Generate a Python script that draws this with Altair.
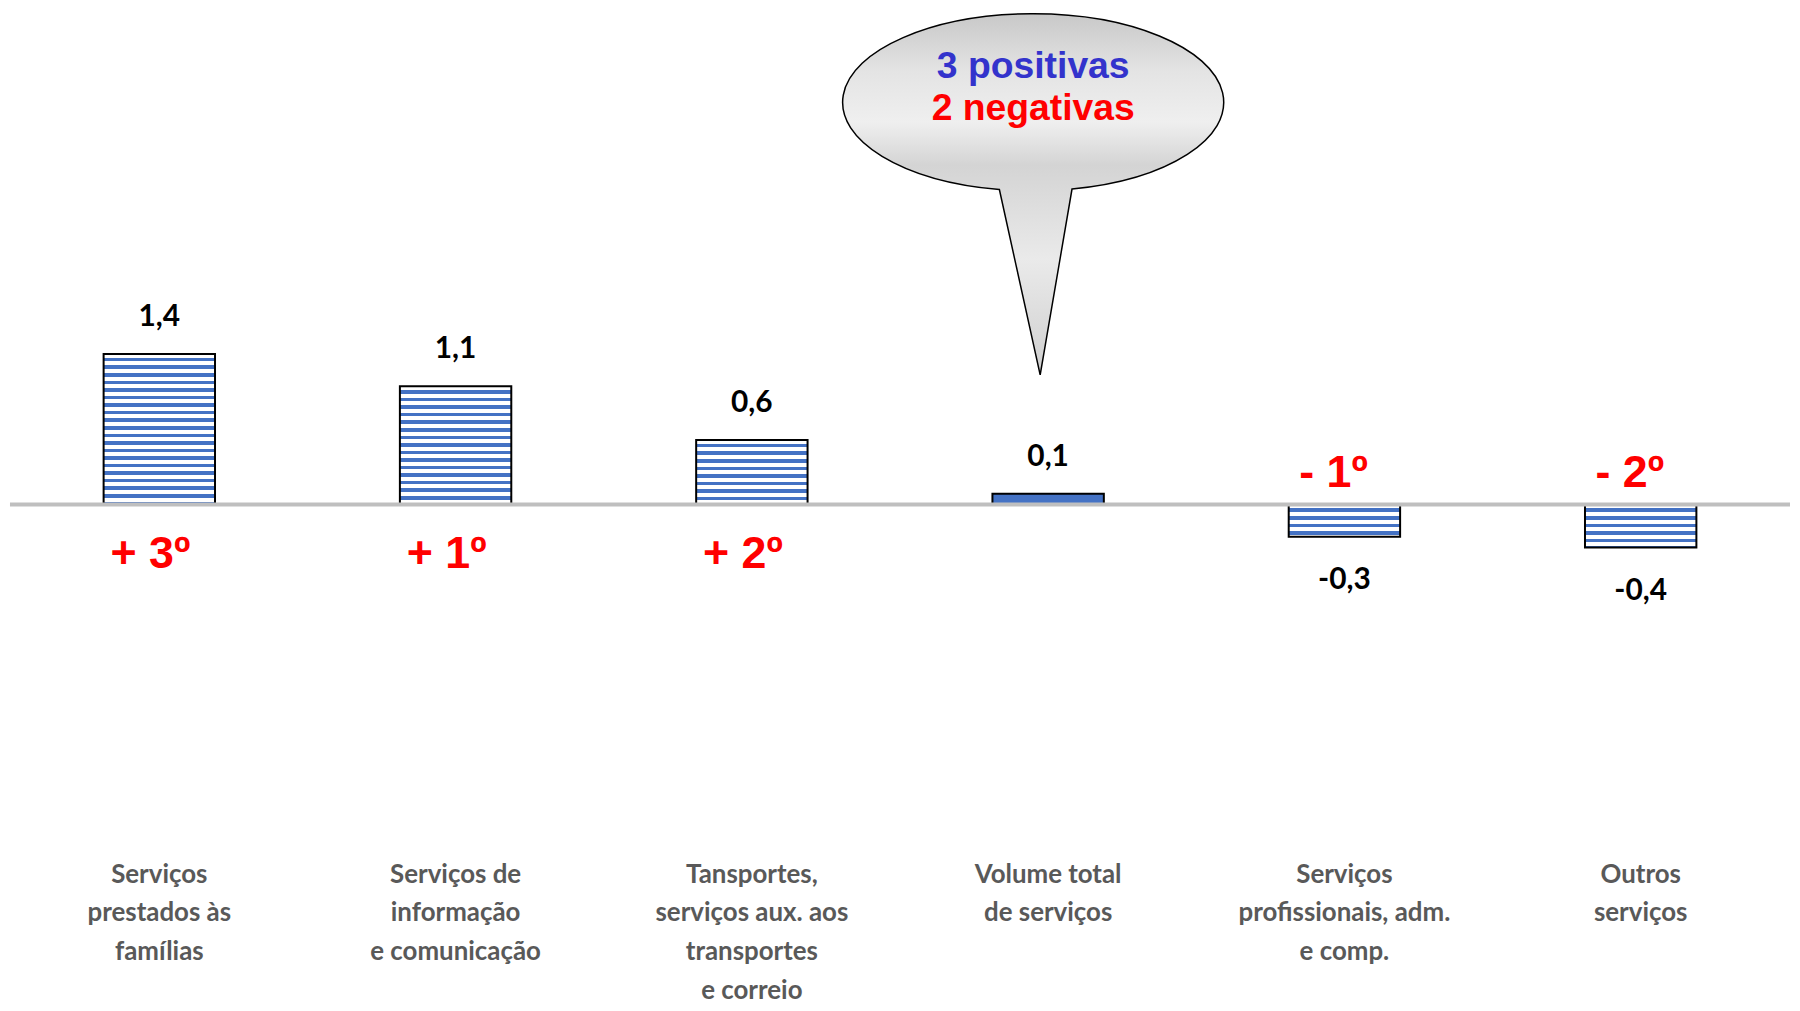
import altair as alt
import pandas as pd

# ---------------- data ----------------
categories = [
    "Serviços|prestados às|famílias",
    "Serviços de|informação|e comunicação",
    "Tansportes,|serviços aux. aos|transportes|e correio",
    "Volume total|de serviços",
    "Serviços|profissionais, adm.|e comp.",
    "Outros|serviços",
]
values = [1.4, 1.1, 0.6, 0.1, -0.3, -0.4]
value_labels = ["1,4", "1,1", "0,6", "0,1", "-0,3", "-0,4"]
ranks = ["+ 3º", "+ 1º", "+ 2º", "", "- 1º", "- 2º"]
callout_lines = ["3 positivas", "2 negativas"]
callout_anchor = [categories[3]]
callout_level = [3.74]

df = pd.DataFrame({"cat": categories, "value": values, "label": value_labels,
                   "rank": ranks, "zero": [0] * len(values)})

# ---------------- layout / style ----------------
PLOT_W = 1789
PLOT_H = 849
Y_MIN, Y_MAX = -3.3, 4.557
PX_PER_UNIT = PLOT_H / (Y_MAX - Y_MIN)
BLUE = "#4472C4"
WHITE = "#FFFFFF"

x_enc = alt.X(
    "cat:N",
    sort=None,
    scale=alt.Scale(domain=categories, paddingInner=0.624, paddingOuter=0.316),
    axis=alt.Axis(
        title=None, labelAngle=0, domain=False, ticks=False, grid=False,
        labelExpr="split(datum.label, '|')",
        labelFont="Lato", labelFontSize=26, labelFontWeight="bold",
        labelColor="#595959", labelLineHeight=39, labelPadding=23,
        labelBaseline="alphabetic", labelLimit=0, labelOverlap=False,
    ),
)
y_scale = alt.Scale(domain=[Y_MIN, Y_MAX], nice=False, zero=False)
y_enc = alt.Y("value:Q", scale=y_scale, axis=None)
y_zero = alt.Y("zero:Q", scale=y_scale, axis=None)


def stripe_fill(v):
    h = abs(v) * PX_PER_UNIT
    period = 7.6
    blue_frac = 0.47
    if h / period < 2:
        return BLUE
    stops = []
    pos = 0.0
    while pos < h - 0.01:
        w_end = min(pos + period * (1 - blue_frac), h)
        b_end = min(pos + period, h)
        for off, col in [(pos, WHITE), (w_end, WHITE), (w_end, BLUE), (b_end, BLUE)]:
            stops.append({"offset": round(min(off / h, 1.0), 5), "color": col})
        pos += period
    return {"gradient": "linear", "x1": 0, "y1": 0, "x2": 0, "y2": 1, "stops": stops}


base = alt.Chart(df)

bar_layers = []
for c, v in zip(categories, values):
    bar_layers.append(
        base.transform_filter(alt.datum.cat == c)
        .mark_bar(fill=stripe_fill(v), stroke="black", strokeWidth=2)
        .encode(x=x_enc, y=y_enc, y2=alt.datum(0))
    )

zero_line = (
    alt.Chart(pd.DataFrame({"value": [0]}))
    .mark_rule(color="#BFBFBF", strokeWidth=4)
    .encode(y=y_enc)
)

val_pos = (
    base.transform_filter(alt.datum.value > 0)
    .mark_text(font="Lato", fontSize=30, fontWeight="bold", color="black",
               baseline="alphabetic", dy=-28)
    .encode(x=x_enc, y=y_enc, text="label:N")
)
val_neg = (
    base.transform_filter(alt.datum.value < 0)
    .mark_text(font="Lato", fontSize=30, fontWeight="bold", color="black",
               baseline="alphabetic", dy=53)
    .encode(x=x_enc, y=y_enc, text="label:N")
)

rank_pos = (
    base.transform_filter("datum.value > 0 && datum.rank != ''")
    .mark_text(font="Liberation Sans", fontSize=45, fontWeight="bold", color="#FF0000",
               baseline="alphabetic", dy=64, dx=-9)
    .encode(x=x_enc, y=y_zero, text="rank:N")
)
rank_neg = (
    base.transform_filter("datum.value < 0 && datum.rank != ''")
    .mark_text(font="Liberation Sans", fontSize=45, fontWeight="bold", color="#FF0000",
               baseline="alphabetic", dy=-18, dx=-11)
    .encode(x=x_enc, y=y_zero, text="rank:N")
)

# callout bubble
anno = pd.DataFrame({"cat": callout_anchor, "value": callout_level,
                     "l1": [callout_lines[0]], "l2": [callout_lines[1]]})
bubble_path = "M 0.195 0.4357 A 0.9575 0.445 0 1 0 -0.17 0.438 L 0.035 1.37 Z"
bubble_fill = {
    "gradient": "linear", "x1": 0, "y1": 0, "x2": 0, "y2": 1,
    "stops": [
        {"offset": 0.0, "color": "#C8C8C8"},
        {"offset": 0.16, "color": "#E4E4E4"},
        {"offset": 0.30, "color": "#EFEFEF"},
        {"offset": 0.42, "color": "#D4D4D4"},
        {"offset": 0.68, "color": "#EAEAEA"},
        {"offset": 1.0, "color": "#CFCFCF"},
    ],
}
bubble = (
    alt.Chart(anno)
    .mark_point(shape=bubble_path, size=160000, filled=True, fill=bubble_fill,
                fillOpacity=1, opacity=1, stroke="black", strokeWidth=1.5, xOffset=-15)
    .encode(x=x_enc, y=y_enc)
)
bubble_t1 = (
    alt.Chart(anno)
    .mark_text(font="Liberation Sans", fontSize=37.5, fontWeight="bold", color="#3333CC",
               baseline="alphabetic", dy=-24, dx=-15)
    .encode(x=x_enc, y=y_enc, text="l1:N")
)
bubble_t2 = (
    alt.Chart(anno)
    .mark_text(font="Liberation Sans", fontSize=37.5, fontWeight="bold", color="#FF0000",
               baseline="alphabetic", dy=18, dx=-15)
    .encode(x=x_enc, y=y_enc, text="l2:N")
)

chart = (
    alt.layer(*bar_layers, zero_line, val_pos, val_neg, rank_pos, rank_neg,
              bubble, bubble_t1, bubble_t2)
    .properties(width=PLOT_W, height=PLOT_H, background="white",
                padding={"left": 0, "top": 0, "right": 0, "bottom": 0})
    .configure_view(stroke=None)
)

chart.save("out.html", embed_options={"renderer": "svg", "actions": False})
